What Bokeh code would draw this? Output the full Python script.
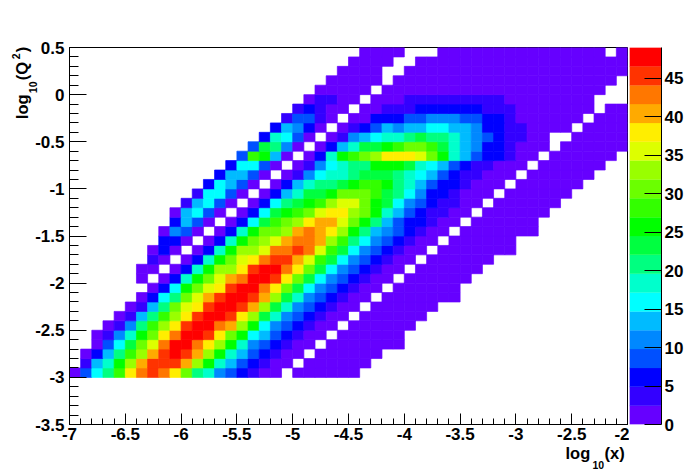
import math
from bokeh.embed import file_html
from bokeh.layouts import row
from bokeh.models import ColumnDataSource, FixedTicker, Label, Range1d
from bokeh.plotting import figure
from bokeh.resources import INLINE

# ---- data -----------------------------------------------------------------
palette = ["#6600ff", "#3300ff", "#0000ff", "#0050ff", "#0088ff", "#00bbff", "#00ffff",
           "#00ffcc", "#00ff80", "#00ff40", "#00ff00", "#33ff00", "#6bff00", "#99ff00",
           "#ddff00", "#ffee00", "#ffaa00", "#ff7700", "#ff3300", "#ff0000"]
z_max = 49
x_min, x_max, x_bin = -7, -2, 0.1
y_min, y_max, y_first, y_bin = -3.5, 0.5, -3, 0.1

x_tick_values = [-7, -6.5, -6, -5.5, -5, -4.5, -4, -3.5, -3, -2.5, -2]
x_tick_labels = ["-7", "-6.5", "-6", "-5.5", "-5", "-4.5", "-4", "-3.5", "-3", "-2.5", "-2"]
y_tick_values = [-3.5, -3, -2.5, -2, -1.5, -1, -0.5, 0, 0.5]
y_tick_labels = ["-3.5", "-3", "-2.5", "-2", "-1.5", "-1", "-0.5", "0", "0.5"]
z_tick_values = [0, 5, 10, 15, 20, 25, 30, 35, 40, 45]

first_col = [0, 1, 1, 2, 2, 3, 4, 5, 6, 7, 6, 6, 7, 7, 8, 8, 9, 9, 10, 11, 12, 13, 14, 15, 16,
             17, 18, 19, 20, 21, 22, 23, 24, 25, 26]

row_00 = [1,9,16,21,28,38,43,45,43,38,31,21,18,11,9,6,4,1,1,0,1,1,1,1,1,1]
row_01 = [4,14,18,26,33,41,45,45,45,41,33,26,18,14,9,6,4,1,1,0,1,1,1,1,1,1]
row_02 = [1,6,14,21,28,33,41,45,48,45,41,33,26,18,14,9,6,4,1,1,0,1,1,1,1,1,1]
row_03 = [1,9,16,23,31,36,43,48,48,43,38,33,26,18,11,9,6,4,1,1,0,1,1,1,1,1,1,1]
row_04 = [1,4,11,18,26,31,38,43,48,48,45,38,31,26,16,14,9,6,4,1,1,0,1,1,1,1,1,1]
row_05 = [1,4,11,21,28,33,38,45,48,48,43,41,33,26,16,11,9,6,4,1,1,0,1,1,1,1,1,1]
row_06 = [1,4,14,21,28,33,38,45,48,48,45,38,33,23,18,11,9,6,4,1,1,0,1,1,1,1,1,1]
row_07 = [1,4,14,21,31,36,38,45,48,48,45,41,33,23,18,11,9,6,4,1,1,0,1,1,1,1,1,1]
row_08 = [1,6,16,21,31,36,41,45,48,48,45,41,33,23,18,11,9,6,4,1,1,0,1,1,1,1,1,1,1]
row_09 = [1,6,16,26,31,36,38,45,48,48,43,38,31,23,16,11,9,6,4,1,1,0,1,1,1,1,1,1]
row_10 = [1,0,1,6,18,26,31,36,41,43,48,48,45,38,31,23,16,11,9,6,4,1,1,0,1,1,1,1,1,1]
row_11 = [1,1,0,1,6,18,26,33,33,38,45,48,48,43,38,31,23,16,11,9,6,4,1,1,0,1,1,1,1,1,1]
row_12 = [4,1,0,1,6,18,26,31,36,38,43,45,45,41,36,28,23,16,11,9,6,4,1,1,0,1,1,1,1,1,1]
row_13 = [1,6,1,0,1,6,18,26,33,33,36,43,43,45,43,36,28,23,16,11,9,6,4,1,1,0,1,1,1,1,1,1,1]
row_14 = [6,6,1,0,1,6,18,26,31,33,36,41,43,43,41,33,28,21,16,11,9,6,4,1,1,0,1,1,1,1,1,1]
row_15 = [1,11,9,1,0,1,6,18,26,31,31,33,41,43,41,38,33,26,21,14,11,9,6,4,1,1,0,1,1,1,1,1,1,1]
row_16 = [6,14,9,1,0,1,6,16,23,28,31,33,38,41,41,36,31,26,21,14,9,6,6,4,1,1,0,1,1,1,1,1,1]
row_17 = [1,14,16,9,1,0,1,6,16,23,26,28,31,36,38,38,33,31,26,18,14,9,6,4,4,1,1,0,1,1,1,1,1,1]
row_18 = [4,14,16,9,1,0,1,6,16,21,23,26,28,33,36,36,31,26,23,16,11,9,6,4,4,1,1,0,1,1,1,1,1,1]
row_19 = [4,16,16,9,1,0,1,6,14,18,23,23,26,31,31,31,28,23,21,16,11,6,6,4,1,1,1,0,1,1,1,1,1,1]
row_20 = [6,16,14,9,1,0,1,6,14,18,21,21,23,26,28,28,26,21,18,14,9,6,6,4,1,1,1,0,1,1,1,1,1,1]
row_21 = [6,14,14,9,1,0,1,4,11,16,18,18,21,23,23,23,21,18,16,14,9,6,4,4,1,1,1,0,1,1,1,1,1,1]
row_22 = [6,16,16,9,1,0,1,4,11,16,18,21,21,26,26,26,23,18,16,14,9,6,4,4,1,1,1,0,1,1,1,1,1,1]
row_23 = [9,28,26,14,1,0,1,6,18,26,28,31,33,38,38,38,36,31,26,18,14,9,6,6,4,1,1,0,1,1,1,1,1,1]
row_24 = [9,23,21,11,1,0,1,6,14,18,23,23,26,28,31,31,28,23,18,14,11,6,6,4,1,1,1,0,1,1,1,1,1,1]
row_25 = [6,18,16,9,1,0,1,4,11,14,16,18,18,21,23,21,21,18,14,11,9,6,4,4,1,1,0,0,1,1,1,1,1]
row_26 = [6,14,11,6,1,0,1,4,6,9,14,11,14,14,16,16,14,14,11,6,6,4,4,1,1,1,1,0,1,1,1,1]
row_27 = [4,9,9,4,1,0,1,1,6,6,6,9,9,11,11,11,9,9,6,6,4,1,1,1,1,1,1,0,1,1,1]
row_28 = [4,6,4,1,1,0,1,1,4,4,4,6,6,6,6,6,6,4,4,4,1,1,1,1,1,1,1,0,1,1]
row_29 = [1,4,4,1,1,0,1,1,1,4,4,4,4,4,4,4,4,4,1,1,1,1,1,1,1,1]
row_30 = [1,1,1,1,1,0,1,1,1,1,1,1,1,1,1,1,1,1,1,1,1,1,1,1,1,1]
row_31 = [1,1,1,1,1,0,1,1,1,1,1,1,1,1,1,1,1,1,1,1,1,1,1,1,1,1]
row_32 = [1,1,1,1,0,0,1,1,1,1,1,1,1,1,1,1,1,1,1,1,1,1,1,1,1,1]
row_33 = [1,1,1,1,0,0,1,1,1,1,1,1,1,1,1,1,1,1,1,1,1,1,1,1,1]
row_34 = [1,1,1,1,0,0,0,1,1,1,1,1,1,1,1,1,1,1,1,1,1,1,0,1]

rows = [row_00, row_01, row_02, row_03, row_04, row_05, row_06, row_07, row_08, row_09,
        row_10, row_11, row_12, row_13, row_14, row_15, row_16, row_17, row_18, row_19,
        row_20, row_21, row_22, row_23, row_24, row_25, row_26, row_27, row_28, row_29,
        row_30, row_31, row_32, row_33, row_34]

FONT = "Liberation Sans"
TICK_SIZE = "17px"


def level_colour(v):
    return palette[min(len(palette) - 1, math.floor(v / z_max * len(palette)))]


left, right, bottom, top, colour, count = [], [], [], [], [], []
for r, values in enumerate(rows):
    for k, v in enumerate(values):
        if v <= 0:
            continue
        c = first_col[r] + k
        left.append(x_min + c * x_bin)
        right.append(x_min + (c + 1) * x_bin)
        bottom.append(y_first + r * y_bin)
        top.append(y_first + (r + 1) * y_bin)
        colour.append(level_colour(v))
        count.append(v)

H = 472
p = figure(width=629, height=H, output_backend="svg", toolbar_location=None,
           x_range=Range1d(x_min, x_max), y_range=Range1d(y_min, y_max),
           min_border_left=69, min_border_right=2, min_border_top=47, min_border_bottom=48,
           background_fill_color="white", border_fill_color="white")
p.quad(left="left", right="right", bottom="bottom", top="top", fill_color="colour",
       line_color="colour", line_width=0.7,
       source=ColumnDataSource(dict(left=left, right=right, bottom=bottom, top=top,
                                    colour=colour, count=count)))
p.grid.visible = False
p.outline_line_color = "black"
p.outline_line_width = 1

p.xaxis.ticker = FixedTicker(ticks=x_tick_values,
                             minor_ticks=[x_min + i * 0.1 for i in range(51)])
p.xaxis.major_label_overrides = dict(zip(x_tick_values, x_tick_labels))
p.xaxis.major_tick_in, p.xaxis.major_tick_out = 11, 0
p.xaxis.minor_tick_in, p.xaxis.minor_tick_out = 6, 0
p.yaxis.ticker = FixedTicker(ticks=y_tick_values,
                             minor_ticks=[y_min + i * 0.1 for i in range(41)])
p.yaxis.major_label_overrides = dict(zip(y_tick_values, y_tick_labels))
p.yaxis.major_tick_in, p.yaxis.major_tick_out = 17, 0
p.yaxis.minor_tick_in, p.yaxis.minor_tick_out = 9, 0
for ax in (p.xaxis[0], p.yaxis[0]):
    ax.axis_line_color = "black"
    ax.major_tick_line_color = "black"
    ax.minor_tick_line_color = "black"
    ax.major_label_text_font = FONT
    ax.major_label_text_font_style = "bold"
    ax.major_label_text_font_size = TICK_SIZE
    ax.major_label_text_color = "black"
p.xaxis.major_label_standoff = 3
p.yaxis.major_label_standoff = 5


def put(text, px, py, size, side, angle=0.0):
    """Place a text piece by its baseline start, given in page pixels.
    The side only chooses the border that reserves room for it."""
    lab = Label(x=x_min, y=y_min, x_units="data", y_units="data",
                x_offset=px - 69, y_offset=424.3 - py, text=text, angle=angle,
                text_font=FONT, text_font_style="bold", text_font_size=size,
                text_color="black", text_baseline="alphabetic", text_align="left")
    p.add_layout(lab, side)


UP = math.pi / 2
put("log", 565, 453, "16.5px", "above")
put("10", 592, 465, "10.5px", "above")
put("(x)", 604, 453, "16.5px", "above")
put("log", 21, 119, "16.5px", "left", UP)
put("10", 32, 93, "10.5px", "left", UP)
put("(Q", 21, 80, "16.5px", "below", UP)
put("2", 15, 59, "10.5px", "below", UP)
put(")", 21, 52, "16.5px", "below", UP)

# ---- colour scale ---------------------------------------------------------
bar = figure(width=67, height=H, output_backend="svg", toolbar_location=None,
             x_range=Range1d(0, 1), y_range=Range1d(0, z_max), y_axis_location="right",
             min_border_left=0, min_border_right=35, min_border_top=47, min_border_bottom=48,
             background_fill_color="white", border_fill_color="white")
n = len(palette)
bar.quad(left=[0] * n, right=[1] * n,
         bottom=[i * z_max / n for i in range(n)], top=[(i + 1) * z_max / n for i in range(n)],
         fill_color=palette, line_color=palette, line_width=0.25)
bar.grid.visible = False
bar.outline_line_color = None
bar.xaxis.visible = False
bar.yaxis.ticker = FixedTicker(ticks=z_tick_values)
bar.yaxis.major_tick_in, bar.yaxis.major_tick_out = 17, 0
bar.yaxis.minor_tick_in, bar.yaxis.minor_tick_out = 0, 0
bar.yaxis.axis_line_color = "black"
bar.yaxis.major_tick_line_color = "black"
bar.yaxis.major_label_text_font = FONT
bar.yaxis.major_label_text_font_style = "bold"
bar.yaxis.major_label_text_font_size = TICK_SIZE
bar.yaxis.major_label_text_color = "black"
bar.yaxis.major_label_standoff = 3

open("out.html", "w").write(file_html(row(p, bar, spacing=0), INLINE))
